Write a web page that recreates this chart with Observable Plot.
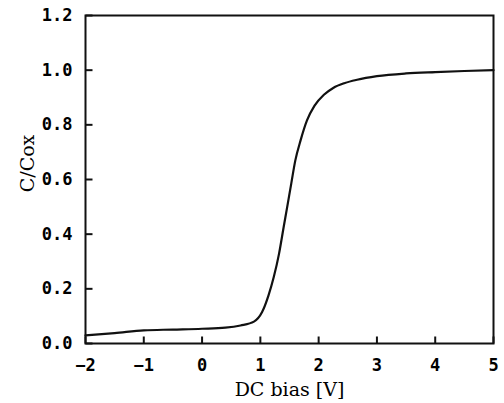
<!DOCTYPE html>
<html>
<head>
<meta charset="utf-8">
<script src="https://cdn.jsdelivr.net/npm/d3@7"></script>
<script src="https://cdn.jsdelivr.net/npm/@observablehq/plot@0.6"></script>
<style>
  html, body { margin: 0; padding: 0; background: #fff; }
</style>
</head>
<body>
<div id="chart"></div>
<script>
const bias = [-2, -1.5, -1, -0.5, 0, 0.4, 0.66, 0.89, 1.03, 1.14, 1.23, 1.32, 1.40, 1.46, 1.53, 1.60, 1.69, 1.80, 1.93, 2.09, 2.25, 2.45, 2.66, 3.0, 3.5, 4.0, 4.5, 5];
const ratio = [0.030, 0.038, 0.048, 0.051, 0.054, 0.058, 0.066, 0.080, 0.115, 0.176, 0.243, 0.328, 0.426, 0.499, 0.585, 0.670, 0.743, 0.816, 0.870, 0.910, 0.935, 0.953, 0.965, 0.978, 0.988, 0.993, 0.997, 1.0];
const xTicks = [-2, -1, 0, 1, 2, 3, 4, 5];
const yTicks = [0.0, 0.2, 0.4, 0.6, 0.8, 1.0, 1.2];
const xTitle = "DC bias [V]";
const yTitle = "C/Cox";

const data = bias.map((b, i) => ({bias: b, ratio: ratio[i]}));
const xTickData = xTicks.map(v => ({v}));
const yTickData = yTicks.map(v => ({v}));

const W = 504, H = 403, ML = 85, MR = 11, MT = 15, MB = 60;
const TICK = 7;
const xDomain = [-2, 5], yDomain = [0, 1.2];
// tick length expressed in data units of the perpendicular axis
const tickLenY = TICK * (yDomain[1] - yDomain[0]) / (H - MT - MB);
const tickLenX = TICK * (xDomain[1] - xDomain[0]) / (W - ML - MR);

const chart = Plot.plot({
  width: W,
  height: H,
  marginLeft: ML,
  marginRight: MR,
  marginTop: MT,
  marginBottom: MB,
  style: {fontFamily: "'DejaVu Sans Mono', monospace", background: "#fff", color: "#000"},
  x: {domain: xDomain},
  y: {domain: yDomain},
  marks: [
    Plot.frame({stroke: "#111", strokeWidth: 2, fill: "none"}),
    Plot.axisX({
      ticks: xTicks, tickSize: 0, tickPadding: 15, tickFormat: d => d < 0 ? "\u2212" + Math.abs(d) : String(d),
      fontSize: 17, fontWeight: "bold", label: null
    }),
    Plot.axisY({
      ticks: yTicks, tickSize: 0, tickPadding: 13, tickFormat: d => d.toFixed(1),
      fontSize: 17, fontWeight: "bold", label: null
    }),
    Plot.text([xTitle], {frameAnchor: "bottom", lineAnchor: "middle", textAnchor: "middle", dy: 46, text: d => d, fontSize: 19, fontFamily: "'DejaVu Serif', serif", fill: "#000"}),
    Plot.text([yTitle], {frameAnchor: "left", lineAnchor: "middle", textAnchor: "middle", dx: -58, dy: -16, rotate: -90, text: d => d, fontSize: 19, fontFamily: "'DejaVu Serif', serif", fill: "#000"}),
    Plot.line(data, {x: "bias", y: "ratio", curve: "monotone-x", stroke: "#111", strokeWidth: 2.2}),
    Plot.link(xTickData, {x1: "v", x2: "v", y1: () => yDomain[0], y2: () => yDomain[0] + tickLenY, stroke: "#111", strokeWidth: 2}),
    Plot.link(yTickData, {y1: "v", y2: "v", x1: () => xDomain[0], x2: () => xDomain[0] + tickLenX, stroke: "#111", strokeWidth: 2})
  ]
});
document.getElementById("chart").appendChild(chart);
</script>
</body>
</html>
